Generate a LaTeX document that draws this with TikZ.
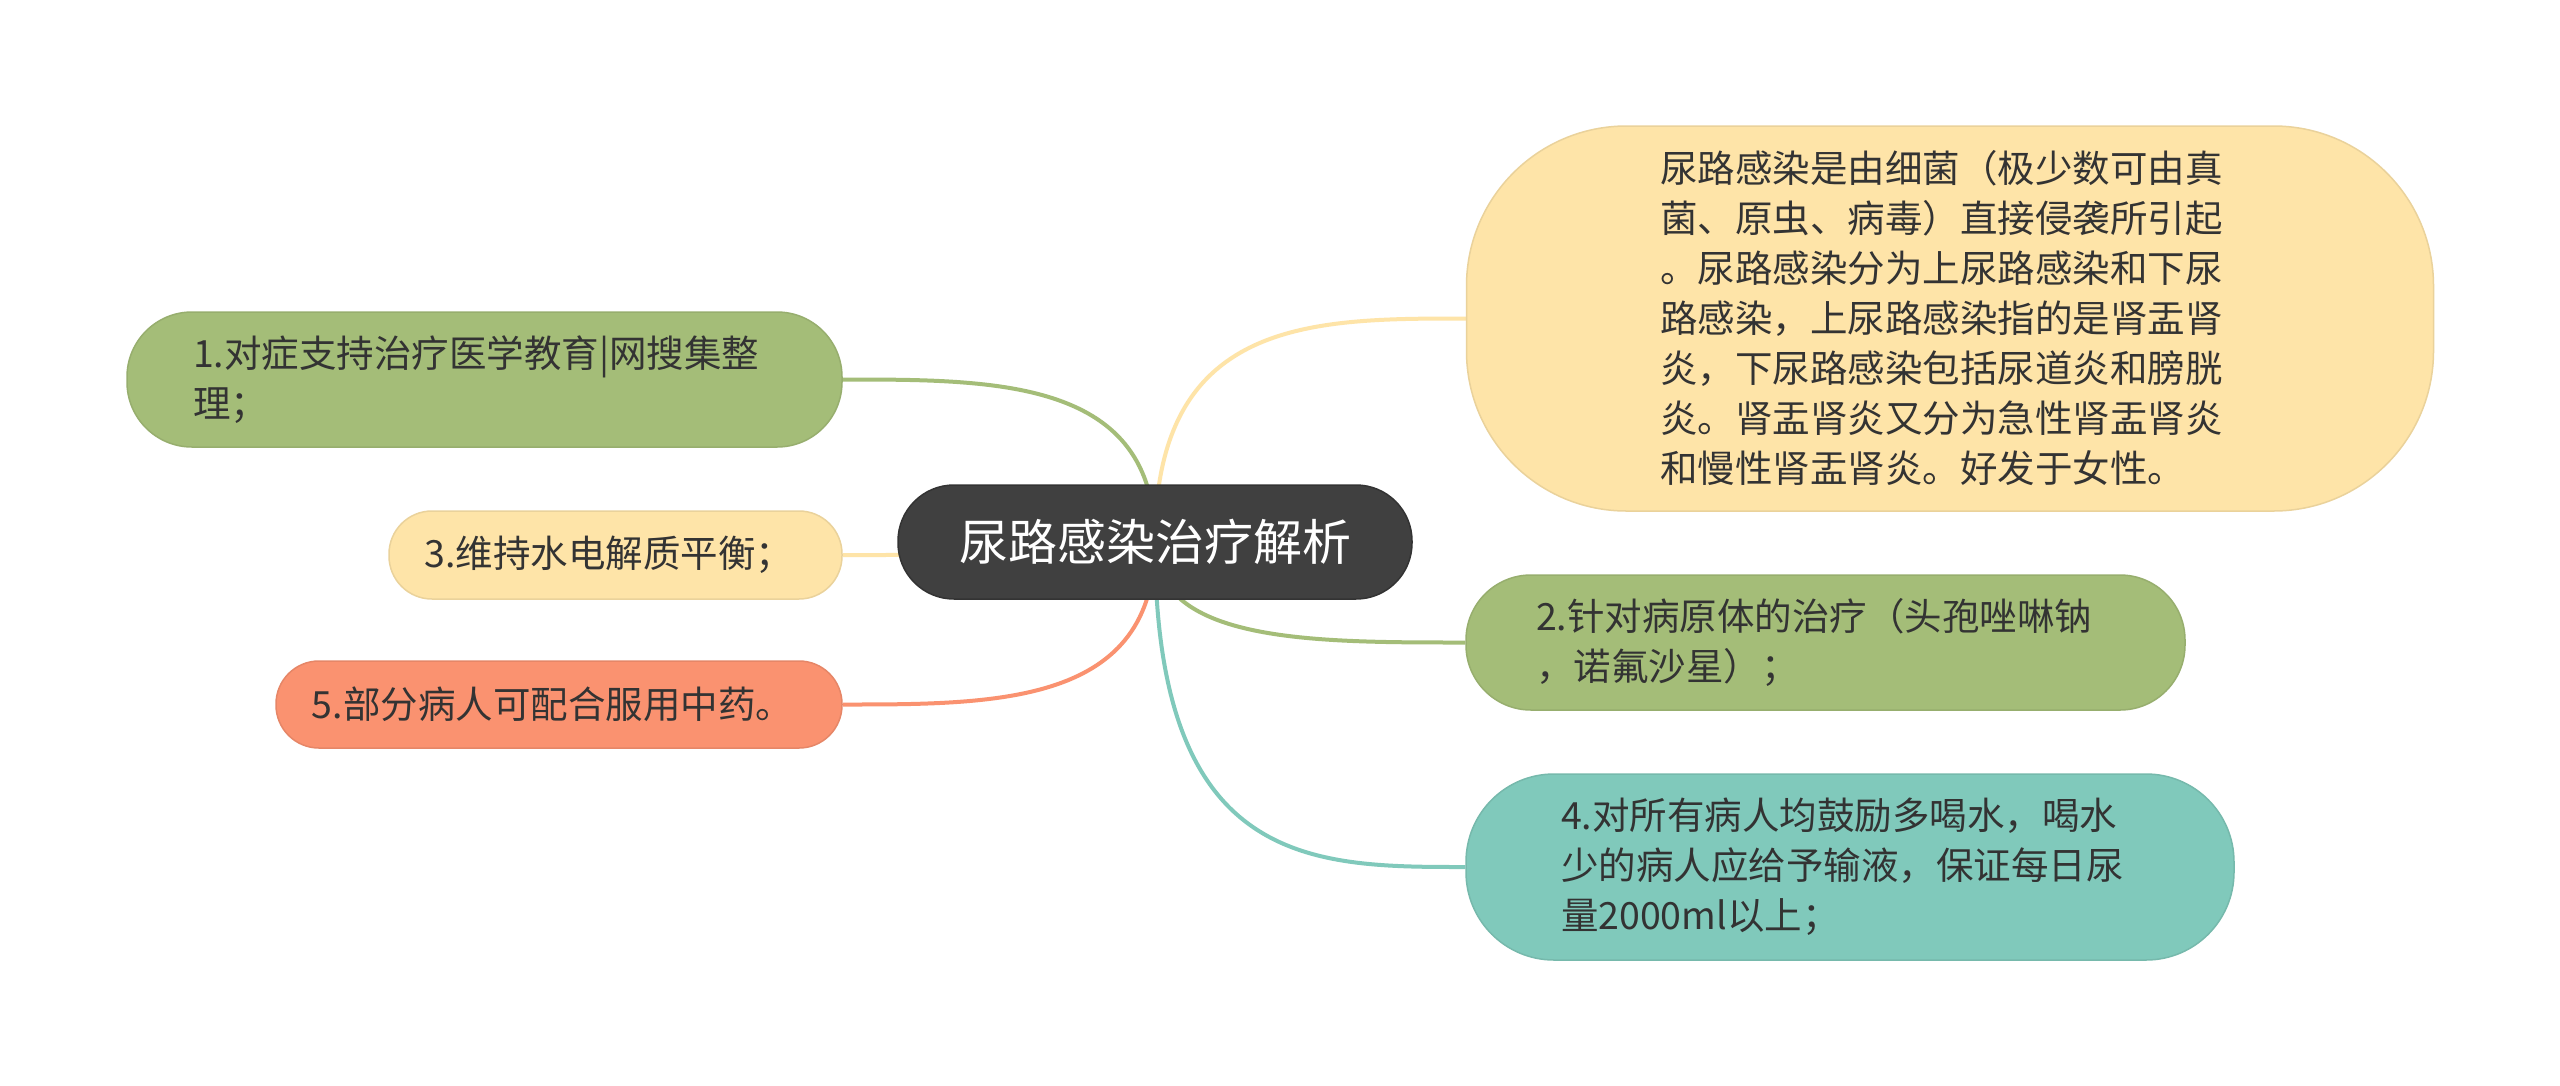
\documentclass[tikz,border=0pt]{standalone}
\usepackage{fontspec}
\setmainfont{Noto Sans CJK SC}
\usetikzlibrary{backgrounds,calc}
\definecolor{dg}{HTML}{404040}
\definecolor{leaf}{HTML}{A4BD78}
\definecolor{sand}{HTML}{FEE4A8}
\definecolor{coral}{HTML}{FA9270}
\definecolor{mint}{HTML}{80C9BB}
\definecolor{ink}{HTML}{333333}
\tikzset{
    root/.style =   {rectangle,
                    rounded corners=56pt,
                    fill=dg,
                    draw=dg!80!black,
                    line width=1.5pt,
                    text=white,
                    minimum width=514pt,
                    minimum height=114pt,
                    font=\fontsize{49}{60}\selectfont},
    topic/.style =  {rectangle,
                    text=ink,
                    align=left,
                    line width=1.5pt,
                    inner sep=0pt,
                    font=\fontsize{37.5}{50}\selectfont},
    green/.style =  {topic,
                    fill=leaf,
                    draw=leaf!92!black},
    yellow/.style = {topic,
                    fill=sand,
                    draw=sand!92!black},
    salmon/.style = {topic,
                    fill=coral,
                    draw=coral!92!black},
    teal/.style =   {topic,
                    fill=mint,
                    draw=mint!92!black},
    branch/.style = {line width=4pt},
}
% curved branch from the root to a topic
\newcommand{\branchto}[3]{%
    \draw[branch, draw=#1] (R.center) .. controls (R.center |- #2.#3)
        and ($(R.center |- #2.#3)!0.5!(#2.#3)$) .. (#2.#3);}

\begin{document}
\begin{tikzpicture}[x=1pt,y=-1pt]
        \node[root]   (R)  at (1155,542)  {尿路感染治疗解析};
        \node[yellow] (T0) at (1950,318.5) [minimum width=967pt, minimum height=385pt,
                rounded corners=160pt, text width=580pt]
                {尿路感染是由细菌（极少数可由真\\菌、原虫、病毒）直接侵袭所引起\\。尿路感染分为上尿路感染和下尿\\路感染，上尿路感染指的是肾盂肾\\炎，下尿路感染包括尿道炎和膀胱\\炎。肾盂肾炎又分为急性肾盂肾炎\\和慢性肾盂肾炎。好发于女性。};
        \node[green]  (T1) at (484.5,379.5) [minimum width=715pt, minimum height=135pt,
                rounded corners=65pt, text width=583pt]
                {1.对症支持治疗医学教育|网搜集整\\理；};
        \node[green]  (T2) at (1825.5,642.5) [minimum width=719pt, minimum height=135pt,
                rounded corners=65pt, text width=579pt]
                {2.针对病原体的治疗（头孢唑啉钠\\，诺氟沙星）；};
        \node[yellow] (T3) at (615.5,555) [minimum width=453pt, minimum height=88pt,
                rounded corners=43pt]
                {\hspace*{-13pt}3.维持水电解质平衡；};
        \node[teal]   (T4) at (1850,867) [minimum width=768pt, minimum height=186pt,
                rounded corners=88pt, text width=578pt]
                {4.对所有病人均鼓励多喝水，喝水\\少的病人应给予输液，保证每日尿\\量2000ml以上；};
        \node[salmon] (T5) at (559,704.5) [minimum width=566pt, minimum height=87pt,
                rounded corners=43pt]
                {\hspace*{-13pt}5.部分病人可配合服用中药。};

        \begin{pgfonlayer}{background}
        \fill[white] (0,0) rectangle (2560,1085);
        \branchto{sand}{T0}{west}
        \branchto{leaf}{T1}{east}
        \branchto{leaf}{T2}{west}
        \branchto{sand}{T3}{east}
        \branchto{mint}{T4}{west}
        \branchto{coral}{T5}{east}
        \end{pgfonlayer}
        \useasboundingbox (0,0) rectangle (2560,1085);
\end{tikzpicture}
\end{document}
